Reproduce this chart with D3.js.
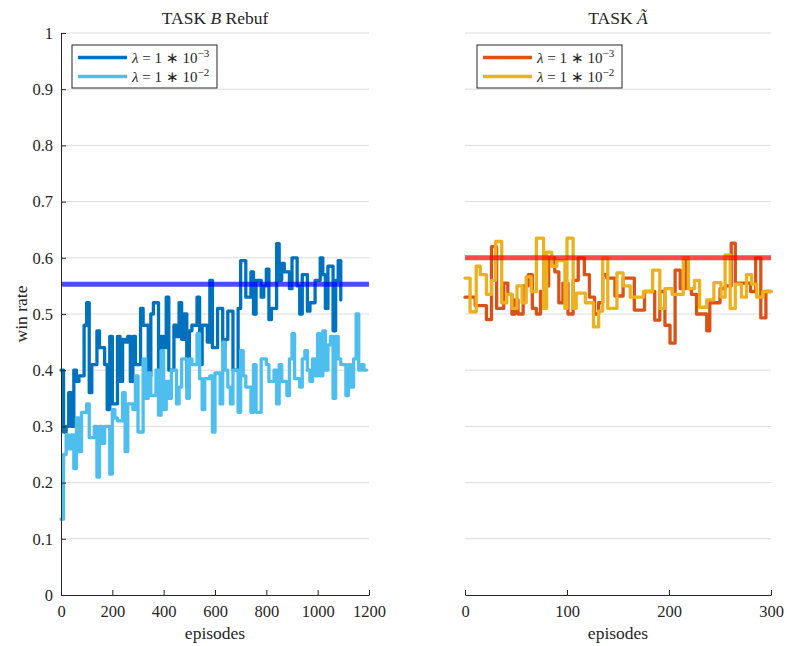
<!DOCTYPE html>
<html><head><meta charset="utf-8">
<script src="https://cdn.jsdelivr.net/npm/d3@7"></script>
<style>
body{margin:0;background:#fff;}
svg{display:block;}
</style></head>
<body><svg id="c" width="787" height="646"></svg>
<script>
// ---------- data ----------
const yTicks = [0,0.1,0.2,0.3,0.4,0.5,0.6,0.7,0.8,0.9,1];
const xTicksLeft = [0,200,400,600,800,1000,1200];
const xTicksRight = [0,100,200,300];

// Task B Rebuf: values every 10 episodes (stairs)
const leftStep = 10;
const lambda3Left = [0.40,0.29,0.30,0.36,0.30,0.40,0.38,0.39,0.39,0.48,
0.52,0.36,0.41,0.41,0.47,0.44,0.44,0.41,0.33,0.46,
0.34,0.34,0.46,0.38,0.455,0.45,0.46,0.38,0.46,0.41,
0.41,0.51,0.48,0.48,0.39,0.50,0.52,0.52,0.38,0.46,
0.44,0.53,0.40,0.40,0.48,0.46,0.52,0.455,0.50,0.37,
0.47,0.48,0.48,0.53,0.41,0.48,0.48,0.45,0.56,0.44,
0.44,0.51,0.51,0.44,0.455,0.505,0.505,0.40,0.40,0.51,
0.595,0.595,0.53,0.53,0.575,0.50,0.56,0.56,0.53,0.55,
0.58,0.49,0.51,0.51,0.625,0.56,0.59,0.575,0.575,0.545,
0.60,0.60,0.55,0.50,0.57,0.57,0.505,0.52,0.52,0.56,
0.56,0.60,0.57,0.51,0.585,0.585,0.47,0.56,0.595,0.525];
const lambda2Left = [0.135,0.25,0.285,0.26,0.285,0.225,0.315,0.255,0.325,0.325,
0.34,0.28,0.28,0.30,0.21,0.30,0.27,0.30,0.30,0.215,
0.33,0.315,0.31,0.31,0.36,0.255,0.34,0.34,0.33,0.39,
0.29,0.29,0.42,0.35,0.395,0.355,0.355,0.40,0.32,0.435,
0.33,0.38,0.35,0.40,0.40,0.34,0.37,0.42,0.42,0.35,
0.42,0.41,0.41,0.465,0.385,0.33,0.385,0.385,0.39,0.29,
0.395,0.395,0.34,0.45,0.40,0.37,0.34,0.40,0.40,0.325,
0.435,0.39,0.37,0.37,0.325,0.41,0.325,0.325,0.42,0.42,
0.41,0.38,0.38,0.40,0.34,0.41,0.38,0.38,0.355,0.42,
0.465,0.385,0.385,0.37,0.42,0.435,0.40,0.38,0.42,0.39,
0.465,0.39,0.47,0.40,0.445,0.46,0.35,0.46,0.42,0.41,
0.41,0.355,0.41,0.37,0.42,0.50,0.40,0.41,0.40,0.40];
const refLeft = 0.553;

// Task A~: change-point episodes and values (stairs)
const lambda3RightEp = [0,10,21,26,31,38,42,46,49,52,57,62,66,70,74,78,82,88,92,96,101,106,111,117,122,127,131,135,139,147,155,166,176,186,191,196,201,206,211,216,219,222,227,237,240,250,255,261,265,280,285,290,295,300];
const lambda3RightVal = [0.53,0.515,0.49,0.62,0.51,0.555,0.535,0.50,0.525,0.50,0.55,0.57,0.51,0.50,0.54,0.55,0.60,0.575,0.52,0.555,0.50,0.56,0.60,0.57,0.53,0.50,0.52,0.57,0.564,0.532,0.564,0.507,0.54,0.489,0.54,0.48,0.448,0.578,0.545,0.60,0.545,0.535,0.50,0.47,0.52,0.545,0.55,0.626,0.555,0.54,0.60,0.493,0.54,0.54];
const lambda2RightEp = [0,5,11,15,21,26,30,36,41,46,51,56,60,65,70,77,80,85,90,98,100,106,109,118,126,131,135,140,149,155,162,175,184,191,196,203,214,219,225,230,237,244,251,255,260,265,271,276,281,286,292,300];
const lambda2RightVal = [0.564,0.504,0.585,0.57,0.535,0.56,0.629,0.52,0.535,0.51,0.55,0.52,0.566,0.54,0.635,0.51,0.61,0.585,0.595,0.51,0.635,0.51,0.537,0.52,0.477,0.505,0.60,0.51,0.573,0.55,0.53,0.54,0.578,0.51,0.545,0.535,0.60,0.545,0.56,0.512,0.525,0.556,0.53,0.605,0.51,0.553,0.53,0.57,0.553,0.53,0.54,0.54];
const refRight = 0.6;

const colors = {l3:"#0072BD", l2:"#4DBEEE", r3:"#D95319", r2:"#EDB120"};
const FONT = "'Liberation Serif', serif";

// ---------- drawing ----------
const svg = d3.select("#c");
const yTop = 33, yBot = 595;
const y = d3.scaleLinear().domain([0,1]).range([yBot,yTop]);
const xL = d3.scaleLinear().domain([0,1200]).range([61,369]);
const xR = d3.scaleLinear().domain([0,300]).range([465,771]);

function grid(x){
  svg.append("g").selectAll("line").data(yTicks.filter(d=>d>0)).join("line")
    .attr("x1",x.range()[0]).attr("x2",x.range()[1])
    .attr("y1",d=>y(d)).attr("y2",d=>y(d))
    .attr("stroke","#dcdcdc").attr("stroke-width",1);
}
grid(xL); grid(xR);

function series(x, pts, color){
  const line = d3.line().x(d=>x(d[0])).y(d=>y(d[1])).curve(d3.curveStepAfter);
  svg.append("path").datum(pts).attr("d",line)
    .attr("fill","none").attr("stroke",color).attr("stroke-width",3.3)
    .attr("stroke-linejoin","round").attr("stroke-linecap","round");
}
series(xL, lambda3Left.map((v,i)=>[i*leftStep,v]), colors.l3);
series(xL, lambda2Left.map((v,i)=>[i*leftStep,v]), colors.l2);
series(xR, lambda3RightEp.map((e,i)=>[e,lambda3RightVal[i]]), colors.r3);
series(xR, lambda2RightEp.map((e,i)=>[e,lambda2RightVal[i]]), colors.r2);

// reference lines
svg.append("line").attr("x1",xL(0)).attr("x2",xL(1200)).attr("y1",y(refLeft)).attr("y2",y(refLeft))
  .attr("stroke","#0000ff").attr("stroke-opacity",0.7).attr("stroke-width",5);
svg.append("line").attr("x1",xR(0)).attr("x2",xR(300)).attr("y1",y(refRight)).attr("y2",y(refRight))
  .attr("stroke","#ff0000").attr("stroke-opacity",0.7).attr("stroke-width",5);

// axes
function styleAxis(g){
  g.attr("font-family",FONT).attr("font-size",16.5);
  g.selectAll("path.domain").attr("stroke","#262626");
  g.selectAll(".tick line").attr("stroke","#262626");
  g.selectAll(".tick text").attr("fill","#262626");
}
const gxL = svg.append("g").attr("transform",`translate(0,${yBot})`)
  .call(d3.axisBottom(xL).tickValues(xTicksLeft).tickSize(-5).tickPadding(10).tickSizeOuter(0).tickFormat(d3.format("d")));
styleAxis(gxL);
const gxR = svg.append("g").attr("transform",`translate(0,${yBot})`)
  .call(d3.axisBottom(xR).tickValues(xTicksRight).tickSize(-5).tickPadding(10).tickSizeOuter(0).tickFormat(d3.format("d")));
styleAxis(gxR);
const gyL = svg.append("g").attr("transform",`translate(${xL(0)},0)`)
  .call(d3.axisLeft(y).tickValues(yTicks).tickSize(-5).tickPadding(8).tickSizeOuter(0).tickFormat(d=>String(+d.toFixed(1))));
styleAxis(gyL);

function txt(x,yy,size){
  return svg.append("text").attr("x",x).attr("y",yy).attr("text-anchor","middle")
    .attr("font-family",FONT).attr("font-size",size).attr("fill","#262626");
}
// titles & labels
const tL = txt(215,24,17.5);
tL.append("tspan").text("TASK ");
tL.append("tspan").attr("font-style","italic").text("B");
tL.append("tspan").text(" Rebuf");
const tR = txt(618,24,17.5);
tR.append("tspan").text("TASK ");
tR.append("tspan").attr("font-style","italic").text("A\u0303");

txt(215,639,17.5).text("episodes");
txt(618,639,17.5).text("episodes");
svg.append("text").attr("transform","translate(27,314) rotate(-90)").attr("text-anchor","middle")
  .attr("font-family",FONT).attr("font-size",17.5).attr("fill","#262626").text("win rate");

// legends
function legend(x0, items){
  const g = svg.append("g").attr("transform",`translate(${x0},45)`);
  g.append("rect").attr("x",0).attr("y",0).attr("width",145).attr("height",43)
    .attr("fill","#fff").attr("stroke","#262626").attr("stroke-width",1);
  items.forEach((it,i)=>{
    const yy = 12.5 + i*19;
    g.append("line").attr("x1",6).attr("x2",55).attr("y1",yy).attr("y2",yy)
      .attr("stroke",it.color).attr("stroke-width",3.3);
    const t = g.append("text").attr("x",60).attr("y",yy+5)
      .attr("font-family",FONT).attr("font-size",15).attr("fill","#262626");
    t.append("tspan").attr("font-style","italic").text("λ");
    t.append("tspan").text(" = 1 ∗ 10");
    t.append("tspan").attr("dy",-6).attr("font-size",11).text("−" + it.exp);
  });
}
legend(72, [{color:colors.l3, exp:3},{color:colors.l2, exp:2}]);
legend(477, [{color:colors.r3, exp:3},{color:colors.r2, exp:2}]);
</script></body></html>
